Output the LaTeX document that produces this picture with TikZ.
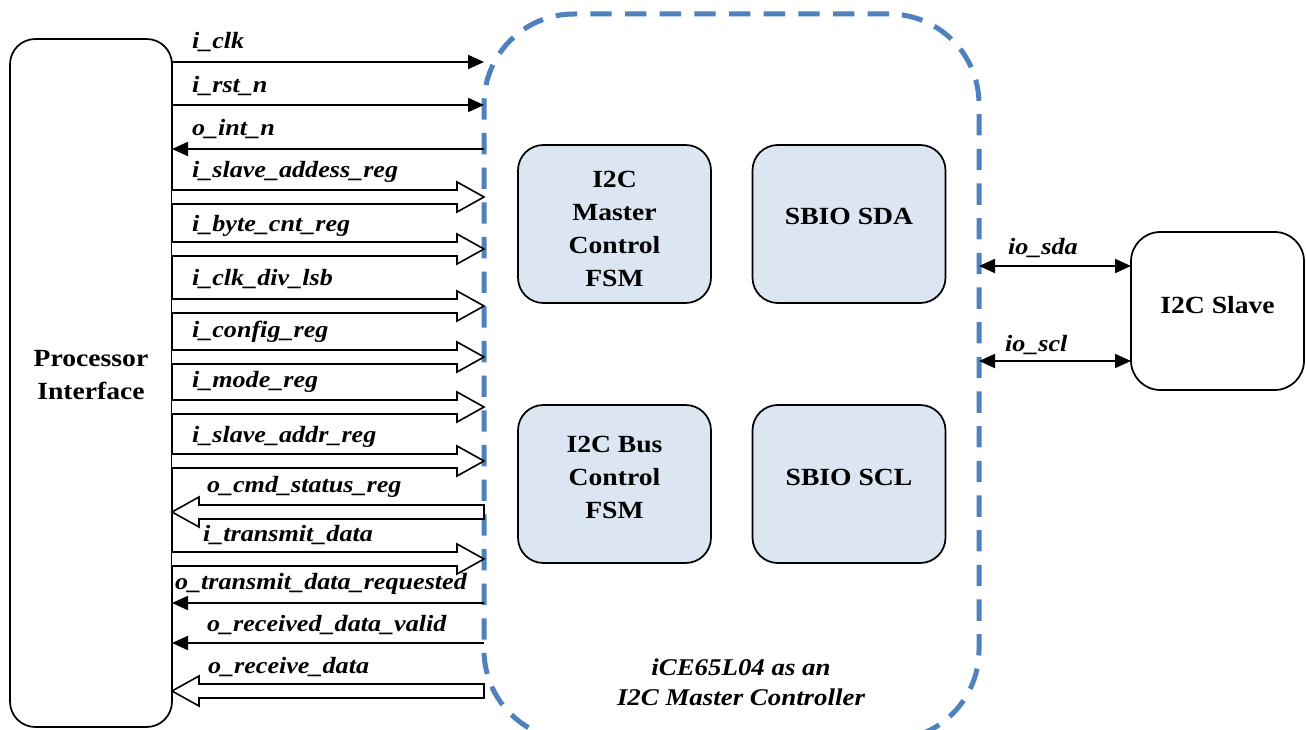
\documentclass[tikz,border=0pt]{standalone}
\usepackage{fontspec}
\setmainfont{Liberation Serif}[FakeStretch=1.12]
\usetikzlibrary{arrows.meta,calc}
\definecolor{dashblue}{RGB}{79,129,189}
\definecolor{blockfill}{RGB}{220,230,242}
\newcommand\thinR[1]{\draw[sig] (pi.east |- 0,#1) -- (ctrl.west |- 0,#1);}
\newcommand\thinL[1]{\draw[sig] (ctrl.west |- 0,#1) -- (pi.east |- 0,#1);}
\newcommand\fatR[1]{\draw[fat] let \p1=(pi.east |- 0,#1), \p2=(ctrl.west |- 0,#1) in
  (\x1,\y1+5.25pt) -- (\x2-20.25pt,\y1+5.25pt) -- (\x2-20.25pt,\y1+11.25pt) -- (\x2,\y1)
  -- (\x2-20.25pt,\y1-11.25pt) -- (\x2-20.25pt,\y1-5.25pt) -- (\x1,\y1-5.25pt);}
\newcommand\fatL[1]{\draw[fat] let \p1=(pi.east |- 0,#1), \p2=(ctrl.west |- 0,#1) in
  (\x2,\y1+5.25pt) -- (\x1+20.25pt,\y1+5.25pt) -- (\x1+20.25pt,\y1+11.25pt) -- (\x1,\y1)
  -- (\x1+20.25pt,\y1-11.25pt) -- (\x1+20.25pt,\y1-5.25pt) -- (\x2,\y1-5.25pt) -- cycle;}
\begin{document}
\begin{tikzpicture}[x=0.75pt,y=-0.75pt,
  every node/.style={outer sep=0pt},
  box/.style={draw, line width=1.3pt, rounded corners=19pt},
  blk/.style={box, fill=blockfill, minimum width=144.75pt, minimum height=118.5pt},
  txt/.style={align=center, inner sep=0pt, font=\fontsize{18.5}{24.75}\selectfont\bfseries},
  lbl/.style={anchor=base west, inner sep=0pt, font=\fontsize{17.5}{20}\selectfont\bfseries\itshape},
  sig/.style={line width=1.5pt, -{Triangle[length=12pt,width=10.5pt]}},
  bidir/.style={line width=1.5pt, {Triangle[length=12pt,width=10.5pt]}-{Triangle[length=12pt,width=10.5pt]}},
  fat/.style={line width=1.2pt, fill=white, line join=miter},
]
\useasboundingbox (0,0) rectangle (1306,730);

\node[box, minimum width=121.5pt, minimum height=516pt] (pi) at (91,383) {};
\node[txt, yshift=6pt] at (pi) {Processor\\Interface};

\begin{scope}
\clip (0,0) rectangle (1306,730);
\node[draw=dashblue, line width=3.75pt, dash pattern=on 16pt off 10pt, rounded corners=67.5pt,
  minimum width=371.25pt, minimum height=544.5pt] (ctrl) at (731.5,377) {};
\end{scope}

\node[blk] (mfsm) at (614.5,224) {};
\node[txt, yshift=-3.75pt] at (mfsm) {I2C\\Master\\Control\\FSM};
\node[blk] (sda) at (849,224) {};
\node[txt, yshift=6pt] at (sda) {SBIO SDA};
\node[blk] (bfsm) at (614.5,484) {};
\node[txt, yshift=5.25pt] at (bfsm) {I2C Bus\\Control\\FSM};
\node[blk] (scl) at (849,484) {};
\node[txt, yshift=5.25pt] at (scl) {SBIO SCL};

\node[box, rounded corners=22pt, minimum width=129.75pt, minimum height=118.5pt] (sl) at (1217.5,311) {};
\node[txt, yshift=4.5pt] at (sl) {I2C Slave};

\draw[bidir] (ctrl.east |- 0,266) -- (sl.west |- 0,266);
\draw[bidir] (ctrl.east |- 0,361) -- (sl.west |- 0,361);
\node[lbl] at (1008,255) {io\_sda};
\node[lbl] at (1005,352) {io\_scl};

\thinR{62}
\thinR{105}
\thinL{149}
\fatR{197}
\fatR{249}
\fatR{306}
\fatR{357}
\fatR{407}
\fatR{461}
\fatL{512}
\fatR{559}
\thinL{603}
\thinL{643}
\fatL{691}

\node[lbl] at (192,49) {i\_clk};
\node[lbl] at (192,93) {i\_rst\_n};
\node[lbl] at (192,136) {o\_int\_n};
\node[lbl] at (192,178) {i\_slave\_addess\_reg};
\node[lbl] at (192,232) {i\_byte\_cnt\_reg};
\node[lbl] at (192,286) {i\_clk\_div\_lsb};
\node[lbl] at (192,338) {i\_config\_reg};
\node[lbl] at (192,388) {i\_mode\_reg};
\node[lbl] at (192,443) {i\_slave\_addr\_reg};
\node[lbl] at (207,493) {o\_cmd\_status\_reg};
\node[lbl] at (203,541) {i\_transmit\_data};
\node[lbl] at (175,589) {o\_transmit\_data\_requested};
\node[lbl] at (207,631) {o\_received\_data\_valid};
\node[lbl] at (208,673) {o\_receive\_data};

\node[align=center, font=\fontsize{18}{22.5}\selectfont\bfseries\itshape] (title) at (741,682)
  {iCE65L04 as an\\I2C Master Controller};
\end{tikzpicture}
\end{document}
